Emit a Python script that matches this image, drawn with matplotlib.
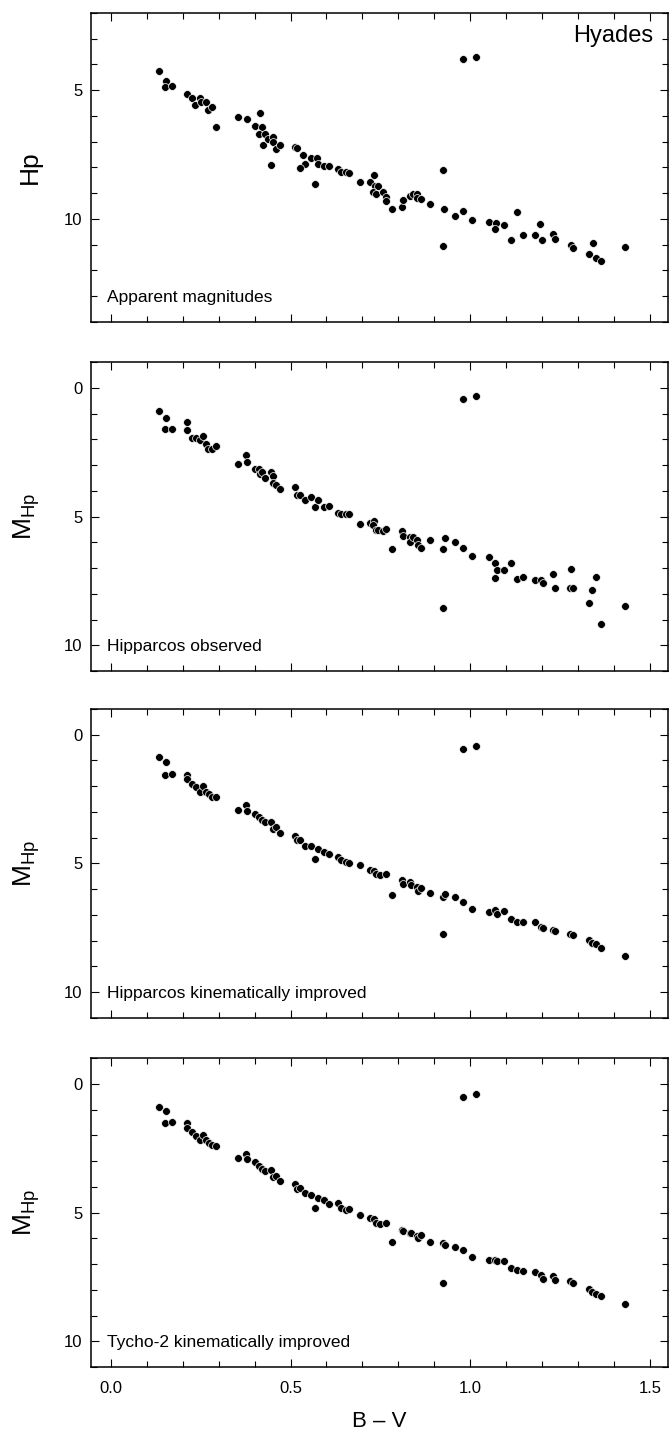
import matplotlib
matplotlib.use('Agg')
import matplotlib.pyplot as plt
from matplotlib.ticker import MultipleLocator

plt.rcParams['font.family'] = ['Liberation Sans', 'DejaVu Sans']
plt.rcParams['mathtext.fontset'] = 'custom'
plt.rcParams['mathtext.rm'] = 'Liberation Sans'

# panel 1: apparent magnitudes
bv_app = [0.135, 0.154, 0.152, 0.169, 0.213, 0.225, 0.235, 0.248, 0.252, 0.264,
          0.270, 0.283, 0.292, 0.353, 0.379, 0.400, 0.414, 0.420, 0.411, 0.428,
          0.424, 0.436, 0.450, 0.450, 0.461, 0.471, 0.445, 0.512, 0.517, 0.536,
          0.541, 0.526, 0.558, 0.575, 0.577, 0.567, 0.593, 0.608, 0.632, 0.641,
          0.654, 0.664, 0.693, 0.720, 0.731, 0.735, 0.742, 0.730, 0.737, 0.757,
          0.765, 0.765, 0.782, 0.810, 0.813, 0.832, 0.841, 0.853, 0.851, 0.864,
          0.888, 0.925, 0.928, 0.923, 0.957, 0.980, 0.981, 1.015, 1.004, 1.051,
          1.072, 1.070, 1.095, 1.112, 1.130, 1.146, 1.181, 1.193, 1.199, 1.230,
          1.236, 1.281, 1.285, 1.342, 1.329, 1.349, 1.364, 1.431]
hp_app = [4.26, 4.65, 4.87, 4.82, 5.13, 5.32, 5.58, 5.32, 5.44, 5.44,
          5.78, 5.64, 6.42, 6.04, 6.10, 6.39, 5.88, 6.44, 6.69, 6.70,
          7.14, 6.90, 6.83, 7.03, 7.27, 7.14, 7.92, 7.21, 7.23, 7.53,
          7.88, 8.01, 7.62, 7.62, 7.86, 8.66, 7.96, 7.95, 8.05, 8.18,
          8.16, 8.23, 8.58, 8.58, 8.29, 8.71, 8.74, 8.96, 9.03, 8.96,
          9.16, 9.32, 9.61, 9.55, 9.27, 9.10, 9.03, 9.03, 9.19, 9.22,
          9.42, 8.10, 9.62, 11.06, 9.87, 9.71, 3.79, 3.70, 10.05, 10.13,
          10.14, 10.40, 10.25, 10.81, 9.74, 10.62, 10.61, 10.19, 10.81, 10.58,
          10.79, 11.01, 11.13, 10.92, 11.36, 11.52, 11.62, 11.10]

# panel 2: Hipparcos observed absolute magnitudes
bv_hip = [0.135, 0.154, 0.152, 0.169, 0.213, 0.213, 0.225, 0.237, 0.248, 0.256,
          0.264, 0.270, 0.283, 0.292, 0.353, 0.377, 0.380, 0.400, 0.411, 0.414,
          0.420, 0.428, 0.445, 0.450, 0.450, 0.461, 0.471, 0.512, 0.517, 0.526,
          0.541, 0.558, 0.567, 0.577, 0.593, 0.608, 0.632, 0.641, 0.654, 0.664,
          0.693, 0.720, 0.731, 0.730, 0.737, 0.742, 0.757, 0.765, 0.782, 0.810,
          0.813, 0.832, 0.832, 0.841, 0.853, 0.856, 0.864, 0.888, 0.925, 0.929,
          0.923, 0.957, 0.980, 0.981, 1.015, 1.004, 1.051, 1.070, 1.074, 1.070,
          1.095, 1.112, 1.130, 1.146, 1.181, 1.196, 1.201, 1.230, 1.236, 1.281,
          1.277, 1.287, 1.349, 1.340, 1.329, 1.364, 1.431]
m_hip = [0.90, 1.18, 1.60, 1.60, 1.34, 1.64, 1.95, 1.95, 2.04, 1.88,
         2.17, 2.39, 2.39, 2.26, 2.96, 2.60, 2.88, 3.17, 3.14, 3.34,
         3.27, 3.51, 3.27, 3.43, 3.69, 3.79, 3.95, 3.84, 4.18, 4.18,
         4.35, 4.25, 4.62, 4.34, 4.62, 4.58, 4.88, 4.92, 4.90, 4.90,
         5.29, 5.25, 5.18, 5.32, 5.52, 5.52, 5.58, 5.49, 6.26, 5.56,
         5.74, 5.78, 6.00, 5.81, 5.90, 6.10, 6.21, 5.92, 6.27, 5.82,
         8.55, 6.00, 6.23, 0.45, 0.32, 6.55, 6.57, 6.79, 7.08, 7.39,
         7.08, 6.82, 7.43, 7.34, 7.48, 7.45, 7.60, 7.22, 7.79, 7.04,
         7.79, 7.79, 7.35, 7.84, 8.35, 9.17, 8.49]

# panels 3 and 4: kinematically improved
bv_kin = [0.135, 0.154, 0.152, 0.169, 0.213, 0.213, 0.225, 0.237, 0.248, 0.256,
          0.264, 0.272, 0.283, 0.292, 0.353, 0.377, 0.380, 0.400, 0.411, 0.420,
          0.428, 0.445, 0.450, 0.461, 0.471, 0.512, 0.517, 0.526, 0.541, 0.558,
          0.567, 0.577, 0.593, 0.608, 0.632, 0.641, 0.654, 0.664, 0.693, 0.720,
          0.731, 0.737, 0.749, 0.765, 0.782, 0.810, 0.813, 0.832, 0.834, 0.853,
          0.856, 0.864, 0.888, 0.925, 0.929, 0.923, 0.957, 0.980, 0.981, 1.015,
          1.004, 1.051, 1.070, 1.074, 1.095, 1.112, 1.130, 1.146, 1.181, 1.196,
          1.201, 1.230, 1.236, 1.277, 1.287, 1.329, 1.340, 1.349, 1.364, 1.431]
m_hip_kin = [0.88, 1.06, 1.58, 1.53, 1.57, 1.73, 1.92, 2.05, 2.23, 2.00,
             2.21, 2.31, 2.40, 2.43, 2.92, 2.73, 2.96, 3.06, 3.21, 3.31,
             3.40, 3.38, 3.68, 3.58, 3.83, 3.92, 4.09, 4.09, 4.34, 4.32,
             4.82, 4.44, 4.56, 4.62, 4.74, 4.87, 4.94, 4.97, 5.06, 5.26,
             5.30, 5.39, 5.43, 5.40, 6.22, 5.64, 5.78, 5.71, 5.83, 5.91,
             6.05, 5.94, 6.14, 6.29, 6.17, 7.75, 6.30, 6.48, 0.55, 0.42,
             6.75, 6.88, 6.82, 6.95, 6.86, 7.14, 7.27, 7.26, 7.27, 7.47,
             7.52, 7.57, 7.62, 7.73, 7.77, 7.96, 8.09, 8.12, 8.27, 8.58]
m_tyc_kin = [0.89, 1.04, 1.54, 1.49, 1.54, 1.71, 1.89, 2.02, 2.20, 1.97,
             2.19, 2.31, 2.37, 2.42, 2.90, 2.71, 2.91, 3.03, 3.19, 3.30,
             3.38, 3.35, 3.63, 3.58, 3.77, 3.91, 4.07, 4.04, 4.24, 4.33,
             4.82, 4.43, 4.53, 4.68, 4.62, 4.81, 4.91, 4.87, 5.09, 5.22,
             5.26, 5.39, 5.44, 5.41, 6.14, 5.67, 5.70, 5.78, 5.80, 5.91,
             5.97, 5.88, 6.14, 6.17, 6.26, 7.72, 6.33, 6.44, 0.53, 0.38,
             6.72, 6.83, 6.83, 6.88, 6.87, 7.16, 7.23, 7.25, 7.31, 7.42,
             7.59, 7.47, 7.62, 7.67, 7.75, 7.98, 8.10, 8.16, 8.24, 8.54]

panels = [
    (bv_app, hp_app, 'Apparent magnitudes', 'Hp', (14, 2)),
    (bv_hip, m_hip, 'Hipparcos observed', r'$\mathrm{M_{Hp}}$', (11, -1)),
    (bv_kin, m_hip_kin, 'Hipparcos kinematically improved', r'$\mathrm{M_{Hp}}$', (11, -1)),
    (bv_kin, m_tyc_kin, 'Tycho-2 kinematically improved', r'$\mathrm{M_{Hp}}$', (11, -1)),
]

fig = plt.figure(figsize=(6.69, 14.36), dpi=100)
left, width = 0.136, 0.8625
bottoms = [0.7758, 0.5327, 0.2911, 0.0480]
height = 0.2152

axes = []
for i, (bv, mag, label, ylab, ylim) in enumerate(panels):
    ax = fig.add_axes([left, bottoms[i], width, height])
    axes.append(ax)
    ax.scatter(bv, mag, s=32, c='black', edgecolors='white', linewidths=0.5, zorder=3)
    ax.set_xlim(-0.055, 1.55)
    ax.set_ylim(*ylim)
    ax.xaxis.set_major_locator(MultipleLocator(0.5))
    ax.xaxis.set_minor_locator(MultipleLocator(0.1))
    ax.yaxis.set_major_locator(MultipleLocator(5))
    ax.yaxis.set_minor_locator(MultipleLocator(1))
    ax.tick_params(which='both', direction='in', top=True, right=True, width=0.8)
    ax.tick_params(which='major', length=6, labelsize=12)
    ax.tick_params(axis='y', which='major', pad=6)
    ax.tick_params(axis='x', which='major', pad=10)
    ax.tick_params(which='minor', length=4.5)
    for sp in ax.spines.values():
        sp.set_linewidth(1.1)
    ax.set_ylabel(ylab, fontsize=19)
    ax.yaxis.set_label_coords(-0.085, 0.5)
    ax.text(0.028, 0.065, label, transform=ax.transAxes, fontsize=12.5,
            ha='left', va='baseline')
    if i < 3:
        ax.tick_params(axis='x', labelbottom=False)
    else:
        ax.xaxis.set_major_formatter(plt.FormatStrFormatter('%.1f'))

axes[0].text(0.975, 0.905, 'Hyades', transform=axes[0].transAxes, fontsize=17,
             ha='right', va='baseline')
axes[3].set_xlabel('B – V', fontsize=16, labelpad=11)

fig.savefig('out.png', dpi=100)
